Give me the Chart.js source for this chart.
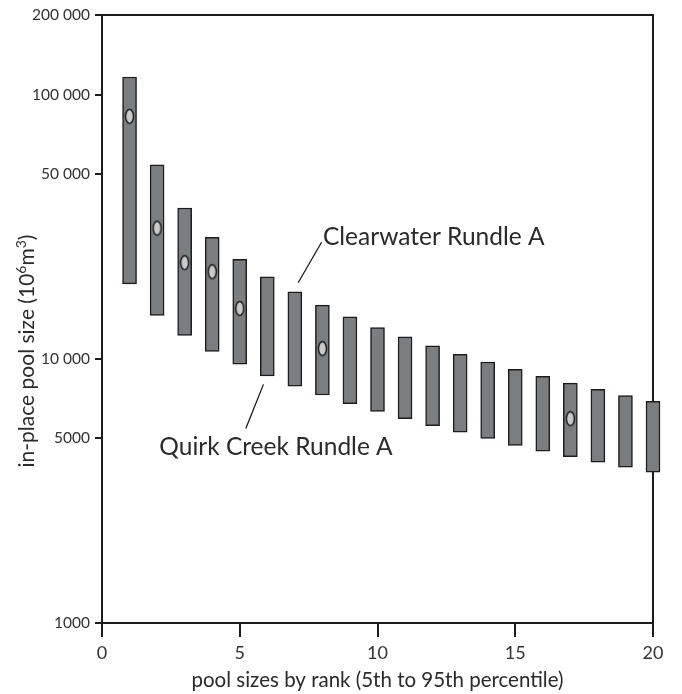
<!DOCTYPE html>
<html>
<head>
<meta charset="utf-8">
<script src="https://cdn.jsdelivr.net/npm/chart.js@4.4.1/dist/chart.umd.min.js"></script>
<style>
  html, body { margin: 0; padding: 0; background: #fff; }
  #wrap { width: 682px; height: 694px; position: relative; }
</style>
</head>
<body>
<div id="wrap"><canvas id="poolChart"></canvas></div>
<script>
// Pool size ranges (5th to 95th percentile), 10^6 m^3
const ranks = [1, 2, 3, 4, 5, 6, 7, 8, 9, 10, 11, 12, 13, 14, 15, 16, 17, 18, 19, 20];
const lowValues = [19200, 14600, 12250, 10670, 9530, 8610, 7880, 7290, 6760, 6320,
                   5930, 5580, 5270, 4990, 4700, 4470, 4265, 4060, 3885, 3720];
const highValues = [116500, 54200, 37200, 28800, 23800, 20440, 17920, 15960, 14410, 13130,
                    12100, 11190, 10400, 9720, 9120, 8580, 8090, 7660, 7250, 6900];

// discovered pools (ellipse markers)
const markerRanks = [1, 2, 3, 4, 5, 8, 17];
const markerValues = [82700, 31200, 23100, 21350, 15500, 10930, 5930];

const yTicks = [1000, 5000, 10000, 50000, 100000, 200000];
const xTicks = [0, 5, 10, 15, 20];

const FONT = "Lato, 'Open Sans', sans-serif";
const INK = '#1c1c1c';

// ellipse marker drawn once and used as point style
const marker = document.createElement('canvas');
marker.width = 11;
marker.height = 17;
(() => {
    const c = marker.getContext('2d');
    c.beginPath();
    c.ellipse(5.5, 8.5, 4, 7, 0, 0, Math.PI * 2);
    c.fillStyle = '#c8cacc';
    c.fill();
    c.lineWidth = 1.5;
    c.strokeStyle = INK;
    c.stroke();
})();

const framePlugin = {
    id: 'frame',
    beforeDatasetsDraw(chart) {
        const { ctx, chartArea: a } = chart;
        ctx.save();
        ctx.strokeStyle = INK;
        ctx.lineWidth = 2;
        ctx.beginPath();
        ctx.moveTo(a.left, a.top);
        ctx.lineTo(a.right, a.top);
        ctx.lineTo(a.right, a.bottom);
        ctx.stroke();
        ctx.restore();
    }
};

// y title with real superscripts (Chart.js titles can't do them)
const yTitlePlugin = {
    id: 'yTitle',
    afterDraw(chart) {
        const { ctx } = chart;
        const parts = [
            ['in-place pool size (10', 21, 0],
            ['6', 14, 8],
            ['m', 21, 0],
            ['3', 14, 8],
            [')', 21, 0]
        ];
        ctx.save();
        let total = 0;
        parts.forEach(p => { ctx.font = p[1] + 'px ' + FONT; total += ctx.measureText(p[0]).width; });
        ctx.translate(34, 351);
        ctx.rotate(-Math.PI / 2);
        ctx.fillStyle = '#2a2a2a';
        ctx.textBaseline = 'alphabetic';
        ctx.textAlign = 'left';
        let cx = -total / 2;
        parts.forEach(p => {
            ctx.font = p[1] + 'px ' + FONT;
            ctx.fillText(p[0], cx, -p[2]);
            cx += ctx.measureText(p[0]).width;
        });
        ctx.restore();
    }
};

// leader lines and well names
const labelPlugin = {
    id: 'labels',
    afterDatasetsDraw(chart) {
        const { ctx, scales: { x, y } } = chart;
        const pt = (vx, vy) => [x.getPixelForValue(vx), y.getPixelForValue(vy)];
        ctx.save();
        ctx.strokeStyle = INK;
        ctx.lineWidth = 1.3;
        ctx.beginPath();
        let p = pt(7.12, 19400); ctx.moveTo(p[0], p[1]);
        p = pt(7.97, 27600); ctx.lineTo(p[0], p[1]);
        p = pt(5.86, 8000); ctx.moveTo(p[0], p[1]);
        p = pt(5.22, 5450); ctx.lineTo(p[0], p[1]);
        ctx.stroke();

        ctx.fillStyle = '#2a2a2a';
        ctx.font = '24.5px ' + FONT;
        ctx.textBaseline = 'alphabetic';
        ctx.textAlign = 'left';
        p = pt(8.02, 26900);
        ctx.fillText('Clearwater Rundle A', p[0], p[1]);
        p = pt(2.08, 4330);
        ctx.fillText('Quirk Creek Rundle A', p[0], p[1]);
        ctx.restore();
    }
};

new Chart(document.getElementById('poolChart'), {
    type: 'bar',
    data: {
        datasets: [
            {
                type: 'scatter',
                data: markerRanks.map((r, i) => ({ x: r, y: markerValues[i] })),
                pointStyle: marker,
                clip: false,
                order: 0
            },
            {
                type: 'bar',
                data: ranks.map((r, i) => ({ x: r, y: [lowValues[i], highValues[i]] })),
                backgroundColor: '#7a7e80',
                borderColor: INK,
                borderWidth: 1.5,
                borderSkipped: false,
                barThickness: 14,
                clip: false,
                order: 1
            }
        ]
    },
    options: {
        responsive: true,
        maintainAspectRatio: false,
        animation: false,
        layout: { padding: { top: 15, right: 29, left: 15, bottom: 0 } },
        plugins: {
            legend: { display: false },
            tooltip: { enabled: false }
        },
        scales: {
            x: {
                type: 'linear',
                min: 0,
                max: 20,
                offset: false,
                afterBuildTicks: s => { s.ticks = xTicks.map(v => ({ value: v })); },
                afterFit: s => { s.height = 694 - 623; },
                grid: { offset: false, drawOnChartArea: false, tickLength: 14, color: INK, lineWidth: 2 },
                border: { color: INK, width: 2 },
                ticks: {
                    color: '#333',
                    font: { family: FONT, size: 18 },
                    padding: 5,
                    maxRotation: 0
                },
                title: {
                    display: true,
                    text: 'pool sizes by rank (5th to 95th percentile)',
                    color: '#2a2a2a',
                    font: { family: FONT, size: 20.5 },
                    padding: { top: 0, bottom: 1 }
                }
            },
            y: {
                type: 'logarithmic',
                min: 1000,
                max: 200000,
                afterBuildTicks: s => { s.ticks = yTicks.map(v => ({ value: v })); },
                afterFit: s => { s.width = 102 - 15; },
                grid: { drawOnChartArea: false, tickLength: 7, color: INK, lineWidth: 2 },
                border: { color: INK, width: 2 },
                ticks: {
                    color: '#333',
                    font: { family: FONT, size: 15.5 },
                    padding: 5,
                    callback: v => v >= 10000 ? String(v).replace(/(\d)(?=(\d{3})+$)/g, '$1 ') : String(v)
                }
            }
        }
    },
    plugins: [framePlugin, labelPlugin, yTitlePlugin]
});
</script>
</body>
</html>
